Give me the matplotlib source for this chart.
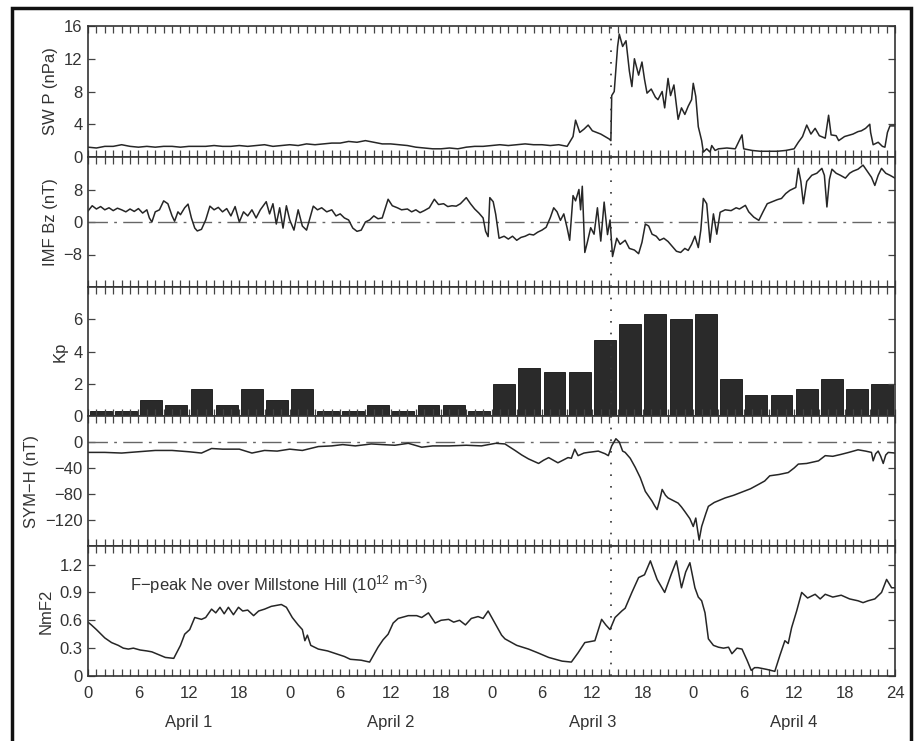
import numpy as np
import matplotlib.pyplot as plt
import matplotlib.transforms as mtransforms
from matplotlib.patches import Rectangle

plt.rcParams['font.family'] = ['Liberation Sans', 'DejaVu Sans']
plt.rcParams['mathtext.fontset'] = 'custom'
plt.rcParams['mathtext.rm'] = 'Liberation Sans'
plt.rcParams['mathtext.it'] = 'Liberation Sans:italic'

# ---- data (hours from April 1 00 UT) ----
swp = [(0, 1.2), (1, 1.1), (2, 1.3), (3, 1.3), (4, 1.5), (5, 1.3), (6, 1.2), (7, 1.3), (8, 1.2),
       (9, 1.3), (10, 1.3), (11, 1.2), (12, 1.3), (13, 1.3), (14, 1.3), (15, 1.4), (16, 1.3),
       (17, 1.3), (18, 1.4), (19, 1.3), (20, 1.4), (21, 1.5), (22, 1.3), (23, 1.4), (24, 1.5),
       (25, 1.4), (26, 1.6), (27, 1.5), (28, 1.6), (29, 1.7), (30, 1.7), (31, 1.9), (32, 1.8),
       (33, 2.0), (34, 1.8), (35, 1.6), (36, 1.6), (37, 1.5), (38, 1.4), (39, 1.2), (40, 1.1),
       (41, 1.0), (42, 1.0), (43, 1.1), (44, 1.0), (45, 1.2), (46, 1.3), (47, 1.3), (48, 1.4),
       (49, 1.5), (50, 1.4), (51, 1.5), (52, 1.6), (53, 1.5), (54, 1.5), (55, 1.4), (56, 1.5),
       (57, 1.3), (57.7, 2.5), (58, 4.5), (58.5, 3.0), (59, 3.4), (59.5, 3.9), (60, 3.2),
       (61, 2.8), (62, 2.2), (62.2, 2.0), (62.3, 7.5), (62.6, 8.0), (63, 13.5), (63.2, 15.0),
       (63.6, 13.5), (64, 14.2), (64.4, 10.5), (64.7, 8.6), (65, 12.0), (65.5, 10.0),
       (65.9, 11.6), (66.2, 9.5), (66.5, 7.8), (67, 8.3), (67.5, 7.3), (67.8, 7.0), (68.3, 8.0),
       (68.6, 6.0), (69, 9.6), (69.3, 7.5), (69.7, 8.8), (70.2, 4.6), (70.6, 6.0), (71, 5.2),
       (71.4, 6.2), (71.8, 7.0), (72, 9.0), (72.3, 7.4), (72.6, 3.7), (73, 2.0), (73.2, 0.6),
       (73.6, 1.0), (74, 0.6), (74.2, 1.4), (74.6, 0.8), (75, 1.0), (76, 1.1), (77, 1.0),
       (77.8, 2.7), (78, 1.0), (79, 0.8), (80, 0.7), (81, 0.7), (82, 0.7), (83, 0.8), (84, 1.0),
       (84.5, 1.8), (85, 2.5), (85.5, 3.9), (86, 2.8), (86.5, 3.5), (87, 2.6), (87.7, 2.3),
       (88.1, 5.1), (88.4, 2.7), (89, 2.6), (89.3, 2.0), (90, 2.5), (91, 2.8), (91.6, 3.1),
       (92, 3.2), (92.5, 3.5), (93, 4.0), (93.1, 3.0), (93.4, 1.5), (94, 1.8), (94.5, 1.3),
       (94.8, 1.2), (95.1, 3.0), (95.4, 3.8), (96, 3.8)]

bz = [(0, 2.7), (0.5, 4.0), (1, 3.2), (1.5, 3.8), (2, 3.0), (2.5, 3.5), (3, 2.8), (3.5, 3.4),
      (4, 3.0), (4.5, 2.5), (5, 3.2), (5.5, 2.6), (6, 3.3), (6.5, 2.2), (7, 3.0), (7.3, 1.0),
      (7.6, 0.0), (8, 2.5), (8.5, 3.0), (9, 5.2), (9.5, 4.5), (10, 1.5), (10.3, 0.2), (10.7, 2.5),
      (11, 1.8), (11.5, 3.5), (11.9, 4.4), (12.3, 1.0), (12.7, -1.5), (13, -2.2), (13.5, -1.8),
      (14, 0.5), (14.5, 3.9), (15, 3.0), (15.5, 3.6), (16, 2.5), (16.5, 3.3), (17, 1.5),
      (17.5, 3.8), (18, 0.0), (18.5, 2.5), (19, 1.5), (19.5, 3.0), (20, 1.0), (20.5, 3.0),
      (21.2, 5.0), (21.6, 2.0), (22, 4.5), (22.4, -0.5), (22.8, 3.5), (23.2, -1.5), (23.6, 4.0),
      (24, 0.5), (24.5, -2.0), (25, 3.0), (25.5, -1.0), (26, -2.0), (26.4, 1.0), (26.8, 3.9),
      (27.3, 3.0), (27.8, 3.5), (28.4, 2.5), (29, 3.0), (29.5, 1.5), (30, 2.0), (30.5, 1.0),
      (31, 0.5), (31.5, -1.5), (32, -2.3), (32.5, -2.0), (33, 0.0), (33.5, 0.5), (34, 1.5),
      (34.5, 0.8), (35, 1.0), (35.7, 5.6), (36.2, 4.0), (36.8, 3.5), (37.3, 3.0), (38, 3.2),
      (38.5, 2.5), (39, 3.0), (39.5, 2.3), (40, 2.8), (40.6, 3.5), (41.2, 5.6), (41.7, 4.3),
      (42.3, 4.5), (42.8, 3.8), (43.3, 4.0), (43.8, 3.9), (44.3, 4.5), (45, 6.0), (45.5, 4.5),
      (46, 3.2), (46.5, 2.2), (47, 1.0), (47.3, -2.3), (47.6, -3.6), (47.8, 6.0), (48.2, 5.0),
      (48.5, 1.9), (48.9, -4.0), (49.5, -3.5), (50, -4.2), (50.5, -3.5), (51, -4.5),
      (51.5, -3.8), (52, -3.5), (52.5, -3.0), (53, -3.2), (53.5, -2.5), (54, -2.0),
      (54.5, -1.3), (55, 1.1), (55.4, 3.5), (55.8, 2.5), (56.2, 0.4), (56.6, 2.0), (57, -1.5),
      (57.3, -4.5), (57.7, 6.5), (58, 5.2), (58.4, 8.0), (58.6, 3.0), (58.8, 8.8), (59.1, -7.5),
      (59.4, -5.0), (59.8, -1.4), (60.2, -3.0), (60.6, 3.5), (61, -4.7), (61.4, 4.9),
      (61.8, -3.1), (62.1, 0.5), (62.4, -8.5), (62.9, -4.0), (63.3, -5.5), (63.9, -4.5),
      (64.4, -6.5), (65, -6.9), (65.5, -7.8), (65.9, -5.0), (66.3, -0.5), (66.7, -1.0),
      (67.1, -3.0), (67.6, -3.5), (68, -4.5), (68.5, -4.0), (69, -4.8), (69.5, -6.0),
      (70, -7.2), (70.5, -7.5), (71, -6.5), (71.4, -7.0), (71.8, -5.5), (72.2, -3.5),
      (72.6, -6.3), (72.9, -2.0), (73.2, 5.8), (73.6, 4.5), (74, -5.0), (74.4, 2.0),
      (74.8, -3.0), (75.2, 2.4), (75.8, 3.0), (76.5, 2.8), (77.1, 3.5), (77.5, 3.2), (78.2, 4.1),
      (78.6, 2.5), (79.2, 1.2), (79.8, 0.4), (80.3, 2.5), (80.8, 4.5), (81.4, 5.0), (82, 5.5),
      (82.5, 5.8), (83, 7.0), (83.5, 7.8), (84.2, 8.5), (84.5, 13.2), (84.8, 10.0), (85.1, 4.5),
      (85.5, 10.0), (86.1, 11.5), (86.7, 12.0), (87.3, 13.2), (87.6, 11.5), (87.9, 3.7),
      (88.2, 10.5), (88.5, 13.0), (89, 12.0), (89.5, 11.5), (90.1, 10.8), (90.6, 12.0),
      (91, 12.5), (91.6, 13.0), (92.2, 14.0), (92.7, 12.5), (93.2, 11.0), (93.6, 9.0),
      (94, 11.5), (94.4, 13.2), (94.9, 12.0), (95.4, 11.5), (96, 10.8)]

kp = [0.3, 0.3, 1.0, 0.7, 1.7, 0.7, 1.7, 1.0,
      1.7, 0.3, 0.3, 0.7, 0.3, 0.7, 0.7, 0.3,
      2.0, 3.0, 2.7, 2.7, 4.7, 5.7, 6.3, 6.0,
      6.3, 2.3, 1.3, 1.3, 1.7, 2.3, 1.7, 2.0]

symh = [(0, -16), (2, -16), (4, -17), (6, -15), (8, -13), (10, -13), (12, -15), (13.5, -17),
        (14.7, -10), (16, -11), (18, -11), (19.5, -17), (21, -13), (22.5, -14), (24, -11),
        (25.5, -13), (27.4, -7), (29, -6), (30.3, -4), (31.8, -6), (33.7, -3), (35, -4),
        (36.5, -5), (38.1, -2), (39.7, -8), (41, -6), (43, -6), (45, -5), (46.8, -6), (48.5, -2),
        (49.6, -3), (50.8, -13), (51.6, -20), (52.4, -26), (53.6, -33), (54.2, -28), (54.8, -24),
        (55.9, -32), (57.1, -24), (57.5, -25), (57.9, -11), (58.3, -21), (59, -17), (59.5, -16),
        (60.7, -14), (61.5, -18), (61.9, -21), (62.3, -6), (62.8, 5), (63.2, 0), (63.6, -14),
        (63.9, -16), (64.5, -25), (65.1, -39), (65.7, -55), (66.3, -76), (67.1, -91),
        (67.4, -98), (67.7, -104), (68.0, -90), (68.3, -73), (68.7, -82), (69.0, -86),
        (69.6, -90), (70.2, -94), (70.6, -100), (71.0, -107), (71.6, -118), (72.0, -130),
        (72.3, -117), (72.7, -151), (73.0, -130), (73.2, -122), (73.5, -110), (73.8, -99),
        (74.5, -93), (75.8, -86), (76.8, -82), (77.8, -77), (78.8, -72), (79.8, -65),
        (80.5, -60), (81.1, -52), (82.2, -50), (83.3, -47), (84.0, -40), (84.5, -34),
        (85.5, -33), (86.9, -29), (87.7, -21), (88.6, -22), (89.6, -19), (90.5, -16),
        (91.6, -12), (92.5, -14), (93.2, -16), (93.4, -29), (93.7, -18), (94.0, -14),
        (94.3, -22), (94.6, -33), (94.9, -20), (95.2, -16), (96, -17)]

nmf2 = [(0, 0.58), (0.4, 0.55), (1, 0.50), (2, 0.41), (2.8, 0.36), (3.6, 0.33), (4.2, 0.30),
        (4.8, 0.29), (5.4, 0.30), (6.2, 0.28), (7, 0.27), (7.6, 0.26), (8.4, 0.23), (9.2, 0.20),
        (10.2, 0.19), (11, 0.33), (11.5, 0.45), (12.1, 0.50), (12.7, 0.63), (13.5, 0.61),
        (14, 0.63), (14.7, 0.72), (15.2, 0.68), (15.7, 0.74), (16.2, 0.67), (16.7, 0.74),
        (17.3, 0.66), (17.9, 0.74), (18.4, 0.70), (19, 0.71), (19.7, 0.65), (20.3, 0.70),
        (21, 0.72), (21.8, 0.75), (22.4, 0.76), (23, 0.77), (23.6, 0.74), (24.3, 0.63),
        (25, 0.55), (25.5, 0.50), (25.8, 0.38), (26.1, 0.44), (26.5, 0.33), (27.4, 0.29),
        (28.5, 0.27), (29.5, 0.24), (30.5, 0.21), (31.2, 0.18), (32.5, 0.17), (33.5, 0.15),
        (34.5, 0.31), (35.1, 0.39), (35.7, 0.45), (36.3, 0.57), (36.9, 0.62), (38.1, 0.65),
        (39.1, 0.65), (39.7, 0.63), (40.5, 0.68), (41.3, 0.57), (42, 0.60), (42.9, 0.61),
        (43.5, 0.58), (44.2, 0.60), (44.9, 0.55), (45.6, 0.62), (46.4, 0.64), (47, 0.62),
        (47.6, 0.70), (48.4, 0.57), (49.2, 0.44), (49.6, 0.40), (50.0, 0.38), (51, 0.33),
        (52.4, 0.29), (53.5, 0.25), (54.8, 0.20), (55.6, 0.18), (56.4, 0.16), (57.5, 0.15),
        (58.3, 0.25), (59.1, 0.36), (60.3, 0.38), (61.1, 0.61), (61.6, 0.55), (62.1, 0.50),
        (62.7, 0.63), (63.5, 0.70), (63.9, 0.73), (64.7, 0.90), (65.5, 1.06), (66.2, 1.09),
        (66.9, 1.24), (67.7, 1.04), (68.6, 0.90), (69.4, 1.10), (70.0, 1.24), (70.6, 0.95),
        (71.1, 1.12), (71.6, 1.22), (72.2, 0.95), (72.6, 0.85), (73.0, 0.81), (73.4, 0.68),
        (73.8, 0.40), (74.4, 0.33), (75.0, 0.31), (75.6, 0.30), (76.2, 0.31), (76.6, 0.24),
        (77.2, 0.30), (77.8, 0.29), (78.4, 0.17), (78.9, 0.06), (79.3, 0.09), (79.7, 0.09),
        (80.8, 0.07), (81.7, 0.05), (82.3, 0.22), (82.9, 0.38), (83.3, 0.35), (83.7, 0.52),
        (84.3, 0.70), (84.9, 0.90), (85.6, 0.84), (86.5, 0.88), (87.1, 0.83), (87.7, 0.88),
        (88.6, 0.85), (89.6, 0.87), (90.6, 0.83), (91.6, 0.81), (92.2, 0.79), (92.8, 0.81),
        (93.6, 0.83), (94.4, 0.90), (95.0, 1.04), (95.6, 0.95), (96, 0.95)]

hour_labels = ['0', '6', '12', '18'] * 4 + ['24']
days = ['April 1', 'April 2', 'April 3', 'April 4']
shock_time = 62.2

ink = '#262626'

fig = plt.figure(figsize=(9.16, 7.41), dpi=100)
W, H = 916.0, 741.0
edges = [26, 157, 287, 416, 546, 676]   # panel top/bottom rows in pixels
axes = []
for i in range(5):
    ax = fig.add_axes([88 / W, 1 - edges[i + 1] / H, 807 / W, (edges[i + 1] - edges[i]) / H])
    axes.append(ax)

def style(ax, ylim, yticks, ylabel):
    ax.set_xlim(0, 96)
    ax.set_ylim(*ylim)
    ax.set_yticks(yticks)
    ax.set_xticks(np.arange(0, 97, 6))
    ax.set_xticks(np.arange(0, 97, 1), minor=True)
    ax.tick_params(which='both', direction='in', top=True, right=True, length=5,
                   width=0.9, color='#444', labelsize=12, labelcolor='#333', pad=4)
    ax.tick_params(axis='x', labelbottom=False)
    ax.set_ylabel(ylabel, fontsize=12, color='#333')
    for s in ax.spines.values():
        s.set_linewidth(1.2)
        s.set_color('#333')
    ax.axvline(shock_time, color='#333', lw=1.2, ls=(0, (1, 6)))

zero_ls = (0, (14, 4.5, 2, 4.5))

# SW pressure
t, v = np.array(swp).T
axes[0].plot(t, v, color=ink, lw=1.1)
style(axes[0], (0, 16), [0, 4, 8, 12, 16], 'SW P (nPa)')

# IMF Bz
t, v = np.array(bz).T
axes[1].axhline(0, color='#666', lw=1.0, ls=zero_ls)
axes[1].plot(t, v, color=ink, lw=1.1)
style(axes[1], (-16, 16), [-8, 0, 8], 'IMF Bz (nT)')

# Kp
axes[2].bar(np.arange(len(kp)) * 3 + 1.5, kp, width=2.6, color='#2a2a2a',
            edgecolor='#111', linewidth=0.6)
style(axes[2], (0, 8), [0, 2, 4, 6], 'Kp')

# SYM-H
t, v = np.array(symh).T
axes[3].axhline(0, color='#666', lw=1.0, ls=zero_ls)
axes[3].plot(t, v, color=ink, lw=1.1)
style(axes[3], (-160, 40), [-120, -80, -40, 0], 'SYM\u2212H (nT)')

# NmF2
t, v = np.array(nmf2).T
axes[4].plot(t, v, color=ink, lw=1.1)
style(axes[4], (0, 1.4), [0, 0.3, 0.6, 0.9, 1.2], 'NmF2')
axes[4].set_yticklabels(['0', '0.3', '0.6', '0.9', '1.2'])
axes[4].tick_params(axis='x', labelbottom=True, pad=7)
axes[4].set_xticklabels(hour_labels)
axes[4].text(5, 0.98, 'F\u2212peak Ne over Millstone Hill (10$^{12}$ m$^{-3}$)',
             fontsize=12, va='center', color='#333')

trans = mtransforms.blended_transform_factory(axes[4].transData, axes[4].transAxes)
for i, d in enumerate(days):
    axes[4].text(12 + 24 * i, -0.355, d, transform=trans, ha='center', va='center',
                 fontsize=12, color='#333')

# outer frame
fig.patches.append(Rectangle((12 / W, -0.05), (911 - 12) / W, 1.05 - 8 / H, fill=False,
                             lw=2.5, edgecolor='#111', transform=fig.transFigure))

fig.savefig('out.png', dpi=100)
